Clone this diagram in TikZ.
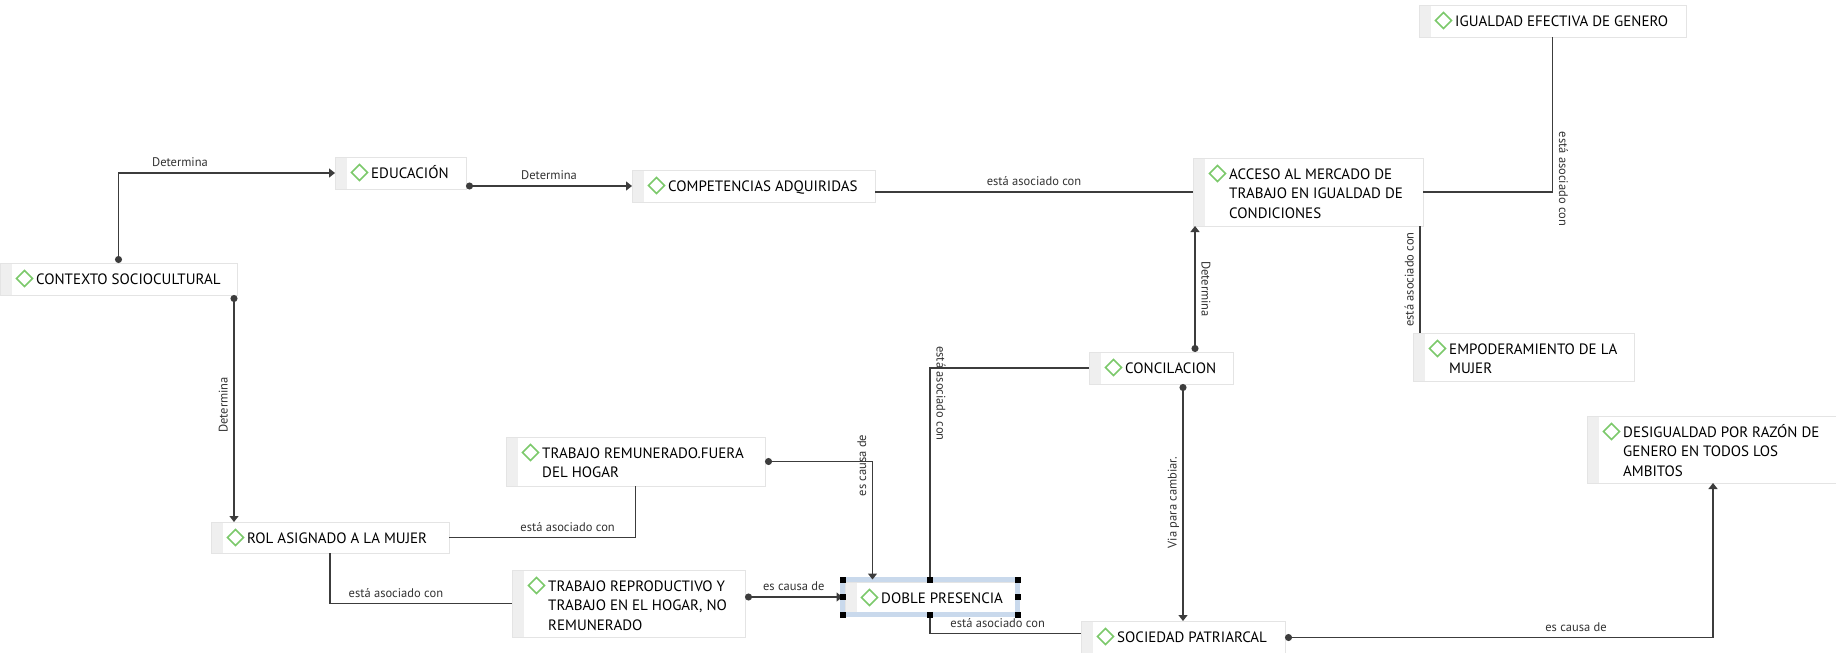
\documentclass[tikz,border=0pt]{standalone}
\usepackage{fontspec}
\setmainfont{PT Sans}
\usetikzlibrary{arrows.meta,calc}

\definecolor{linegray}{HTML}{3C3C3C}
\definecolor{boxline}{HTML}{E4E4E4}
\definecolor{stripgray}{HTML}{EFEFEF}
\definecolor{codegreen}{HTML}{7CC96B}
\definecolor{selblue}{HTML}{C9D9EC}
\definecolor{labelgray}{HTML}{333333}

\tikzset{
  cbox/.style={draw=boxline, line width=0.8pt, fill=white, anchor=north west,
    inner sep=0pt, outer sep=0pt,
    path picture={
      \fill[stripgray] (path picture bounding box.north west)
        rectangle ([xshift=12pt]path picture bounding box.south west);
      \draw[codegreen, line width=1.6pt]
        ([xshift=24.5pt,yshift=-15.5pt]path picture bounding box.north west)
        ++(-8,0) -- ++(8,8) -- ++(8,-8) -- ++(-8,-8) -- cycle;
    }},
  ctext/.style={anchor=base west, inner sep=0pt, text=black,
    font=\fontsize{15}{19.5}\selectfont},
  selframe/.style={draw=selblue, line width=5pt, anchor=north west,
    inner sep=0pt, outer sep=0pt},
  handle/.style={fill=black, draw=none, minimum size=6pt, inner sep=0pt},
  assoc/.style={draw=linegray, line width=1.3pt},
  cause/.style={assoc, {Circle[length=7pt]}-{Triangle[length=6pt,width=9pt]}},
  lab/.style={font=\fontsize{12.5}{14}\selectfont, text=labelgray,
    inner sep=0pt, outer ysep=6.5pt, text depth=0pt, anchor=south},
  labl/.style={lab, rotate=90},
  labr/.style={lab, rotate=-90},
}

% concept box: name, x, y (top), width, height, text
\newcommand{\conceptbox}[6]{%
  \node[cbox, minimum width=#4pt, minimum height=#5pt] (#1) at (#2,#3) {};
  \node[ctext] (#1-t) at ([xshift=36pt,yshift=-21pt]#1.north west)
    {\parbox[t]{300pt}{#6}};
}

\begin{document}
\begin{tikzpicture}[x=1pt,y=-1pt]
  \fill[white] (0,0) rectangle (1836,653);
  \useasboundingbox (0,0) rectangle (1836,653);

  % concepts
  \conceptbox{ctx}{0}{263}{237}{32}{CONTEXTO SOCIOCULTURAL}
  \conceptbox{edu}{335}{157}{131}{32}{EDUCACIÓN}
  \conceptbox{comp}{632}{170}{243}{32}{COMPETENCIAS ADQUIRIDAS}
  \conceptbox{acc}{1193}{158}{230}{68}{ACCESO AL MERCADO DE\\TRABAJO EN IGUALDAD DE\\CONDICIONES}
  \conceptbox{igu}{1419}{5}{267}{32}{IGUALDAD EFECTIVA DE GENERO}
  \conceptbox{emp}{1413}{333}{221}{48}{EMPODERAMIENTO DE LA\\MUJER}
  \conceptbox{conc}{1089}{352}{144}{32}{CONCILACION}
  \conceptbox{soc}{1081}{621}{204}{33}{SOCIEDAD PATRIARCAL}
  \conceptbox{des}{1587}{416}{252}{67}{DESIGUALDAD POR RAZÓN DE\\GENERO EN TODOS LOS\\AMBITOS}
  \conceptbox{rol}{211}{522}{238}{31}{ROL ASIGNADO A LA MUJER}
  \conceptbox{rem}{506}{437}{259}{49}{TRABAJO REMUNERADO.FUERA\\DEL HOGAR}
  \conceptbox{rep}{512}{570}{233}{67}{TRABAJO REPRODUCTIVO Y\\TRABAJO EN EL HOGAR, NO\\REMUNERADO}
  \conceptbox{dobc}{845}{582}{171}{31}{DOBLE PRESENCIA}

  % selection frame around DOBLE PRESENCIA
  \node[selframe, minimum width=175pt, minimum height=35pt] (dob) at (842.5,579.5) {};
  \foreach \a in {north west,north,north east,east,south east,south,south west,west}
    \node[handle] (hd-\a) at (dob.\a) {};

  % helper points on box borders
  \coordinate (e2s) at ($(ctx.south east)+(-3,0)$);
  \coordinate (e3s) at ($(edu.south east)+(0,-3)$);
  \coordinate (e6s) at ($(acc.south east)+(-3,0)$);
  \coordinate (e7t) at ($(acc.south west)+(2,0)$);
  \coordinate (e12t) at ($(dob.north west)+(30,0)$);
  \coordinate (e15t) at ($(soc.west)+(0,-4)$);

  % relations
  \draw[cause] (ctx.north) |- (edu.west)
    node[lab, pos=.642] {Determina};
  \draw[cause] (e2s) -- (e2s |- rol.north)
    node[labl, pos=.484] {Determina};
  \draw[cause] (e3s) -- (e3s -| comp.west)
    node[lab, pos=.5] {Determina};
  \draw[assoc] (comp.east |- acc.west) -- (acc.west)
    node[lab, pos=.5] {está asociado con};
  \draw[assoc] (acc.east) -| (igu.south)
    node[labr, pos=.542] {está asociado con};
  \draw[assoc] (e6s) -- (e6s |- emp.north)
    node[labl, pos=.5] {está asociado con};
  \draw[cause] (e7t |- conc.north) -- (e7t)
    node[labr, pos=.5] {Determina};
  \draw[cause] (conc.south -| soc.north) -- (soc.north)
    node[labl, pos=.5] {Via para cambiar.};
  \draw[cause] (soc.east) -| (des.south)
    node[lab, pos=.34] {es causa de};
  \draw[assoc] (rol.east) -| (rem.south)
    node[lab, pos=.318] {está asociado con};
  \draw[assoc] (rol.south) |- (rep.west)
    node[lab, pos=.681] {está asociado con};
  \draw[cause] (rem.east) -| (e12t)
    node[labl, pos=.517] {es causa de};
  \draw[cause] (rep.east |- dob.west) -- (dob.west)
    node[lab, pos=.5] {es causa de};
  \draw[assoc] (dob.north) |- (conc.west)
    node[labr, pos=.44] {está asociado con};
  \draw[assoc] (dob.south) |- (e15t)
    node[lab, pos=.724] {está asociado con};

  % handles drawn over the connector ends
  \foreach \a in {north west,north,north east,east,south east,south,south west,west}
    \node[handle] at (dob.\a) {};
\end{tikzpicture}
\end{document}
